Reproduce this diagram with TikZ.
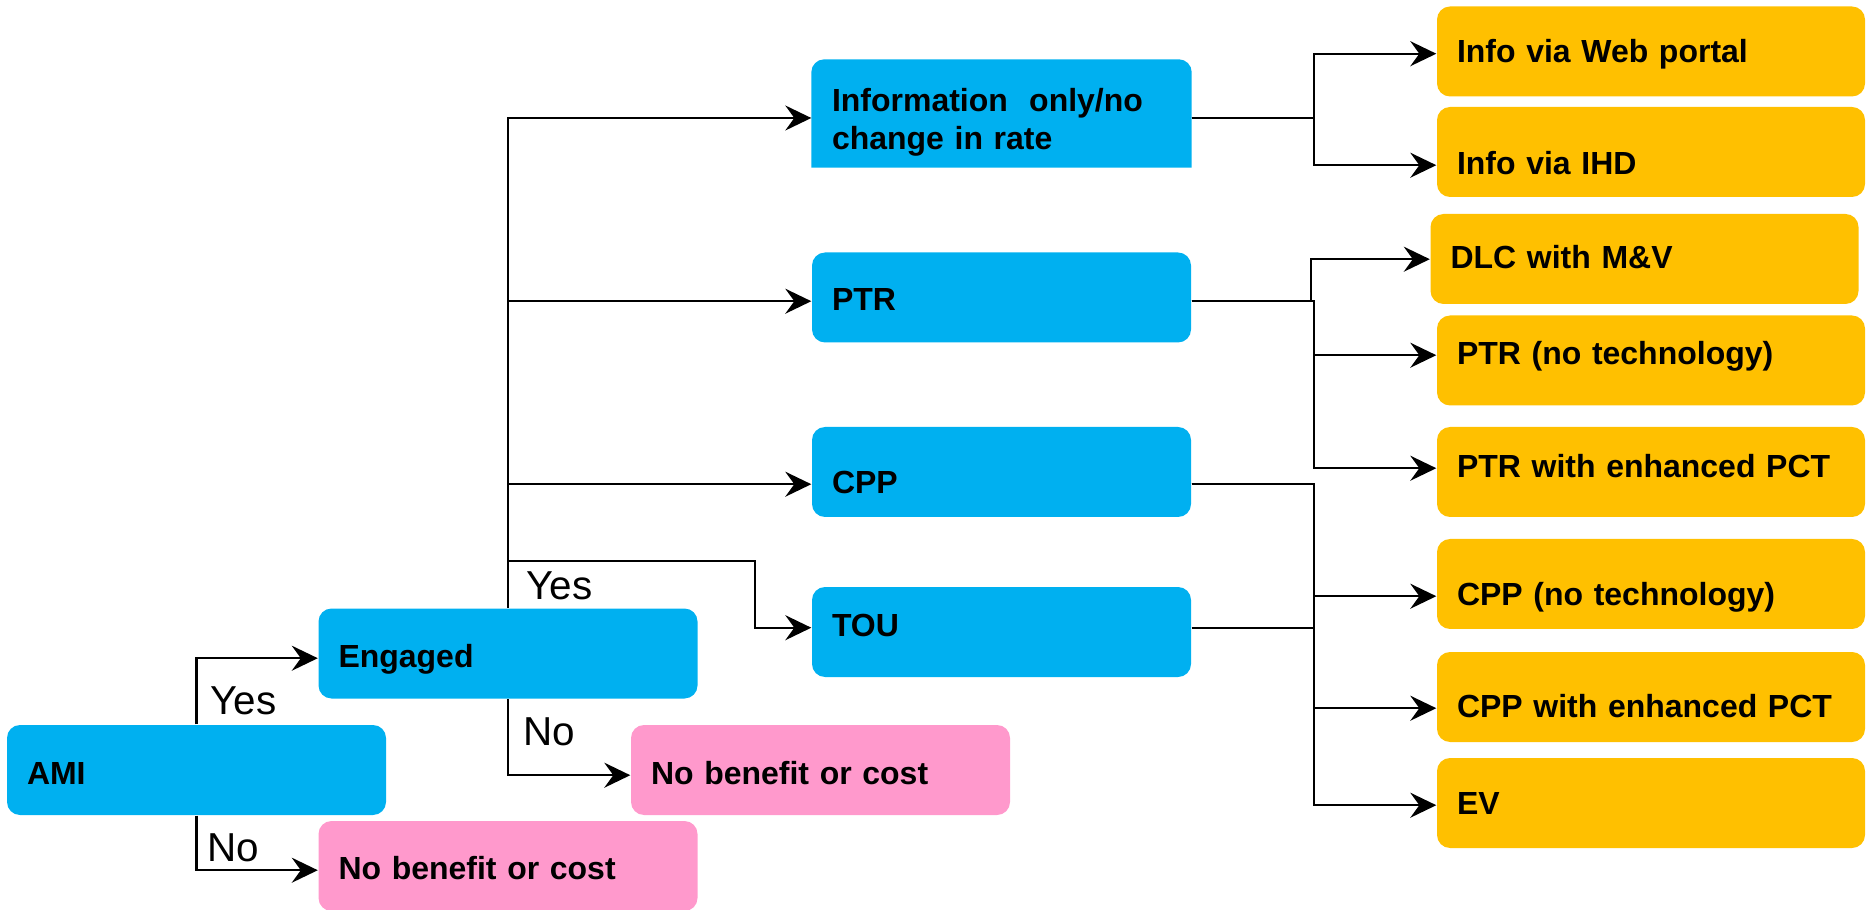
\documentclass[tikz,border=0pt]{standalone}
\usepackage{fontspec}
\setmainfont{Liberation Sans}
\usetikzlibrary{positioning,arrows.meta,backgrounds}
\definecolor{rateblue}{HTML}{00B0F0}
\definecolor{techorange}{HTML}{FFC000}
\definecolor{nopink}{HTML}{FF99CC}

\begin{document}
\begin{tikzpicture}[
    box/.style={rectangle, rounded corners=0.13cm, inner xsep=0.2cm, inner ysep=0pt, align=left, text height=0.23cm, text depth=0cm, minimum height=0.9cm, font=\fontsize{9.1}{10.8}\selectfont\bfseries},
    rate/.style={box, fill=rateblue, text width=3.39cm},
    tech/.style={box, fill=techorange, text width=3.88cm},
    nogain/.style={box, fill=nopink, text width=3.39cm},
    answer/.style={inner sep=0pt, anchor=base west, font=\fontsize{11.5}{13}\selectfont},
    arrow/.style={-{Stealth[length=0.26cm, width=0.25cm, inset=0.09cm]}, line width=0.6pt},
    link/.style={line width=0.6pt}
]
\useasboundingbox (0,0) rectangle (18.74,-9.10);

% Decision boxes
\node[rate, text height=0.29cm] (ami) at (1.965, -7.70) {AMI};
\node[rate, text height=0.28cm] (engaged) at (5.08, -6.535) {Engaged};
\node[nogain, text height=0.27cm] (nobot) at (5.08, -8.66) {No benefit or cost};
\node[nogain, text height=0.29cm] (nomid) at (8.205, -7.70) {No benefit or cost};

% Rate options
\node[box, text width=3.39cm, text height=0.25cm, text depth=0.29cm, minimum height=1.07cm] (info) at (10.015, -1.135) {Information\ \ only/no\\change in rate};
\node[rate, text height=0.26cm] (ptr) at (10.015, -2.975) {PTR};
\node[rate, text height=0.43cm] (cpp) at (10.015, -4.72) {CPP};
\node[rate, text depth=0.13cm] (tou) at (10.015, -6.32) {TOU};

% Info box: square bottom corners
\begin{scope}[on background layer]
\fill[rateblue] (info.south west) [rounded corners=0.13cm] -- (info.north west) -- (info.north east) [sharp corners] -- (info.south east) -- cycle;
\end{scope}

% Technology options
\node[tech] (web) at (16.51, -0.515) {Info via Web portal};
\node[tech, text height=0.45cm] (ihd) at (16.51, -1.52) {Info via IHD};
\node[tech, text depth=0.04cm] (dlc) at (16.445, -2.59) {DLC with M\&V};
\node[tech, text depth=0.15cm] (ptrnt) at (16.51, -3.605) {PTR (no technology)};
\node[tech, text depth=0.12cm] (ptrpct) at (16.51, -4.72) {PTR with enhanced PCT};
\node[tech, text height=0.43cm] (cppnt) at (16.51, -5.84) {CPP (no technology)};
\node[tech, text height=0.41cm] (cpppct) at (16.51, -6.97) {CPP with enhanced PCT};
\node[tech] (ev) at (16.51, -8.03) {EV};

% Branch points
\coordinate (touturn) at (7.55, -5.61);
\coordinate (jx) at (13.14, 0);
\coordinate (jxb) at (13.11, 0);

% AMI branch
\draw[arrow] (ami.north) |- (engaged.mid west);
\draw[arrow] (ami.south) |- (nobot.mid west);

% Engaged branch
\draw[arrow] (engaged.north) |- ([yshift=-0.045cm]info.west);
\draw[arrow] (engaged.north) |- (ptr.mid west);
\draw[arrow] (engaged.north) |- (cpp.mid west);
\draw[arrow] (engaged.north) |- (touturn) |- (tou.mid west);
\draw[arrow] (engaged.south) |- (nomid.mid west);

% Rate to technology
\draw[arrow] ([yshift=-0.045cm]info.east) -- ([yshift=-0.045cm]info.east -| jx) |- (web.mid west);
\draw[arrow] ([yshift=-0.045cm]info.east) -- ([yshift=-0.045cm]info.east -| jx) |- (ihd.mid west);
\draw[arrow] (ptr.mid east) -- (ptr.mid east -| jxb) |- (dlc.mid west);
\draw[arrow] (ptr.mid east) -- (ptr.mid east -| jx) |- (ptrnt.mid west);
\draw[arrow] (ptr.mid east) -- (ptr.mid east -| jx) |- (ptrpct.mid west);
\draw[arrow] (cpp.mid east) -- (cpp.mid east -| jx) |- (cppnt.mid west);
\draw[arrow] (cpp.mid east) -- (cpp.mid east -| jx) |- (cpppct.mid west);
\draw[arrow] (cpp.mid east) -- (cpp.mid east -| jx) |- (ev.mid west);
\draw[link] (tou.mid east) -- (tou.mid east -| jx);

% Labels
\node[answer] (yesami) at (2.10, -7.145) {Yes};
\node[answer] (noami) at (2.07, -8.615) {No};
\node[answer] (yeseng) at (5.26, -5.99) {Yes};
\node[answer] (noeng) at (5.23, -7.45) {No};

\end{tikzpicture}
\end{document}
